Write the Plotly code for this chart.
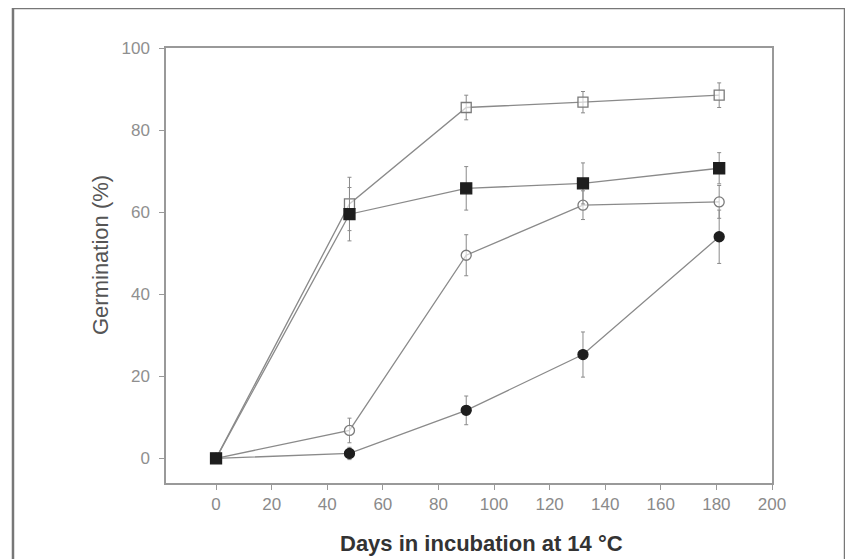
import plotly.graph_objects as go

days = [0, 48, 90, 132, 181]

open_sq = [0, 62.0, 85.5, 86.8, 88.5]
open_sq_err = [0, 6.5, 3.0, 2.6, 3.0]

filled_sq = [0, 59.5, 65.8, 67.0, 70.7]
filled_sq_err = [0, 6.5, 5.3, 5.0, 3.8]

open_ci = [0, 6.8, 49.5, 61.7, 62.5]
open_ci_err = [0, 3.0, 5.0, 3.5, 4.0]

filled_ci = [0, 1.2, 11.7, 25.3, 54.0]
filled_ci_err = [0, 1.5, 3.5, 5.5, 6.5]

x_ticks = [0, 20, 40, 60, 80, 100, 120, 140, 160, 180, 200]
y_ticks = [0, 20, 40, 60, 80, 100]

x_title = "<b>Days in incubation at 14 °C</b>"
y_title = "Germination (%)"

line_col = "#8a8a8a"
err_col = "#8a8a8a"

def trace(y, err, symbol, fill, size):
    return go.Scatter(
        x=days, y=y, mode="lines+markers",
        line=dict(color=line_col, width=1.3),
        marker=dict(symbol=symbol, size=size,
                    color="#1e1e1e" if fill else "rgba(255,255,255,0.6)",
                    line=dict(color="#1e1e1e" if fill else "#7a7a7a", width=1.3)),
        error_y=dict(type="data", array=err, visible=True, color=err_col,
                     thickness=1, width=2),
        showlegend=False,
    )

fig = go.Figure()
fig.add_trace(trace(filled_ci, filled_ci_err, "circle", True, 10))
fig.add_trace(trace(open_ci, open_ci_err, "circle", False, 10))
fig.add_trace(trace(open_sq, open_sq_err, "square", False, 10))
fig.add_trace(trace(filled_sq, filled_sq_err, "square", True, 11))

fig.update_layout(
    width=853, height=559,
    margin=dict(l=158, r=89, t=40, b=84),
    paper_bgcolor="white", plot_bgcolor="white",
    font=dict(family="Liberation Sans, Arial, sans-serif", color="#666"),
    xaxis=dict(range=[-18, 200], tickvals=x_ticks, ticktext=[str(v) for v in x_ticks],
               showgrid=False, zeroline=False, showline=True, linecolor="#999",
               linewidth=1.5, mirror=True, ticks="outside", ticklen=5,
               tickcolor="#999", tickfont=dict(size=17, color="#8a8a8a")),
    yaxis=dict(range=[-6, 100], tickvals=y_ticks, ticktext=[str(v) for v in y_ticks],
               showgrid=False, zeroline=False, showline=True, linecolor="#999",
               linewidth=1.5, mirror=True, ticks="outside", ticklen=5,
               ticklabelstandoff=6,
               tickcolor="#999", tickfont=dict(size=17, color="#8f8f8f")),
)

fig.add_annotation(text=x_title, xref="paper", yref="paper", x=0.52, y=-0.138,
                   showarrow=False, xanchor="center", yanchor="middle",
                   font=dict(size=22, color="#333"))
fig.add_annotation(text=y_title, xref="paper", yref="paper", x=-0.109, y=0.524,
                   showarrow=False, xanchor="center", yanchor="middle", textangle=-90,
                   font=dict(size=22, color="#555"))

fig.add_shape(type="rect", xref="paper", yref="paper",
              x0=-0.2525, x1=1.1205, y0=-0.2, y1=1.092,
              line=dict(color="#777", width=2.5), layer="below")

fig.write_html("out.html")
